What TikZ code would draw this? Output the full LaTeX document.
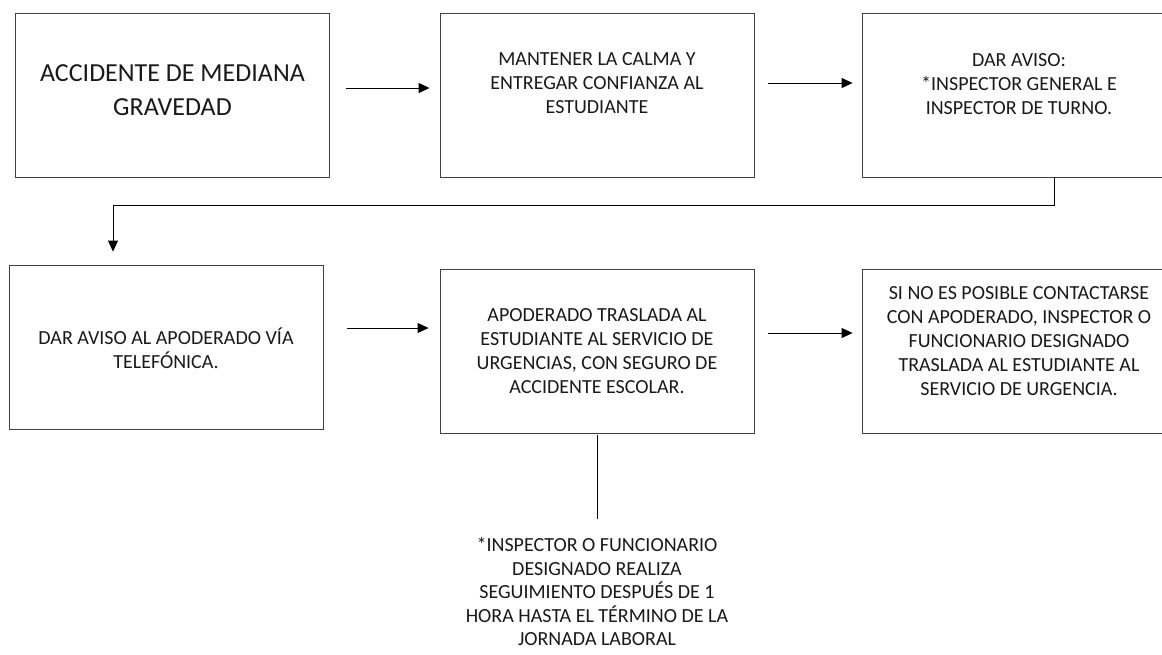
\documentclass[tikz,border=0pt]{standalone}
\usepackage{fontspec}
\setmainfont{Carlito}
\usetikzlibrary{arrows.meta}

\begin{document}
\begin{tikzpicture}[x=1pt,y=-1pt,every node/.style={font=\fontsize{20}{24}\selectfont},
  caja/.style={draw=black!75,line width=0.8pt,minimum width=314pt,minimum height=164pt,inner sep=0pt},
  texto/.style={align=center,text=black!90,inner sep=0pt},
  flecha/.style={line width=1pt,-{Triangle[length=11pt,width=10pt]}}]
  \clip (0,0) rectangle (1162,654);
  \useasboundingbox (0,0) rectangle (1162,654);
  %top row
  \node[caja] (b1) at (172.5,95) {};
  \node[texto,at=(b1.center),yshift=5pt,font=\fontsize{26}{34}\selectfont] (t1) {ACCIDENTE DE MEDIANA\\GRAVEDAD};
  \node[caja] (b2) at (597,95) {};
  \node[texto,at=(b2.center),yshift=12pt] (t2) {MANTENER LA CALMA Y\\ENTREGAR CONFIANZA AL\\ESTUDIANTE};
  \node[caja] (b3) at (1019,95) {};
  \node[texto,at=(b3.center),yshift=11pt] (t3) {DAR AVISO:\\*INSPECTOR GENERAL E\\INSPECTOR DE TURNO.};
  %bottom row
  \node[caja] (b4) at (166,347) {};
  \node[texto,at=(b4.center),yshift=-1pt] (t4) {DAR AVISO AL APODERADO VÍA\\TELEFÓNICA.};
  \node[caja] (b5) at (597,351) {};
  \node[texto,at=(b5.center)] (t5) {APODERADO TRASLADA AL\\ESTUDIANTE AL SERVICIO DE\\URGENCIAS, CON SEGURO DE\\ACCIDENTE ESCOLAR.};
  \node[caja] (b6) at (1019,351) {};
  \node[texto,at=(b6.center),yshift=10pt] (t6) {SI NO ES POSIBLE CONTACTARSE\\CON APODERADO, INSPECTOR O\\FUNCIONARIO DESIGNADO\\TRASLADA AL ESTUDIANTE AL\\SERVICIO DE URGENCIA.};
  %note
  \node[texto,at=(b5.south),anchor=north,yshift=-104pt,font=\fontsize{20}{23.5}\selectfont] (t7) {*INSPECTOR O FUNCIONARIO\\DESIGNADO REALIZA\\SEGUIMIENTO DESPUÉS DE 1\\HORA HASTA EL TÉRMINO DE LA\\JORNADA LABORAL};

  %arrows
  \draw[flecha] ([shift={(16,-7)}]b1.east) -- ([shift={(-10,-7)}]b2.west);
  \draw[flecha] ([shift={(14,-12)}]b2.east) -- ([shift={(-9,-12)}]b3.west);
  \draw[flecha] ([xshift=35pt]b3.south) -- ++(0,28) -| ([shift={(-53,-13)}]b4.north);
  \draw[flecha] ([shift={(24,-19)}]b4.east) -- ([shift={(-11,-23)}]b5.west);
  \draw[flecha] ([shift={(14,-18)}]b5.east) -- ([shift={(-9,-18)}]b6.west);
  \draw[line width=1pt,shorten <=2pt,shorten >=18pt] (b5.south) -- (t7.north);
\end{tikzpicture}
\end{document}
